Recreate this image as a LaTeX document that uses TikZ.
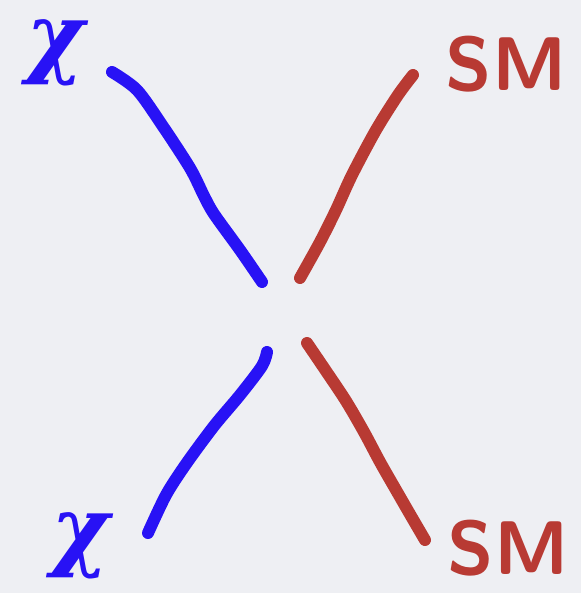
\documentclass[tikz,border=0pt]{standalone}
\usepackage{fontspec}
\newfontfamily\chifont{DejaVu Serif}
\usepackage{tikz}
\usetikzlibrary{positioning, calc}

\definecolor{chiblue}{RGB}{40,18,245}
\definecolor{smred}{RGB}{184,58,51}
\definecolor{paper}{RGB}{238,239,243}

\begin{document}
\begin{tikzpicture}[x=1pt, y=-1pt]
    \tikzstyle{leg} = [line width=12pt, line cap=round, line join=round]
    \tikzstyle{chilabel} = [text=chiblue, inner sep=0pt, font=\fontsize{88}{88}\selectfont\chifont\bfseries\itshape]
    \tikzstyle{smlabel} = [text=smred, inner sep=0pt, font=\fontsize{76}{76}\selectfont\sffamily\bfseries]

    \fill[paper] (0,0) rectangle (581,593);

    \node[chilabel] (chitop) at (55,53) {χ};
    \node[chilabel] (chibot) at (80,546) {χ};
    \node[smlabel] (smtop) at (506,64) {SM};
    \node[smlabel] (smbot) at (508,548) {SM};

    % ends of the four legs near the vertex
    \coordinate (ta) at (112,72);   \coordinate (tv) at (262,282);
    \coordinate (ra) at (413,75);   \coordinate (rv) at (300,278);
    \coordinate (ba) at (148,533);  \coordinate (bv) at (267,352);
    \coordinate (sa) at (425,540);  \coordinate (sv) at (307,343);

    \draw[leg, chiblue] plot[smooth, tension=0.5] coordinates {(ta) (137,90) (162,125) (190,168) (204,196) (214,214) (240,250) (tv)};
    \draw[leg, smred] plot[smooth, tension=0.5] coordinates {(ra) (398,95) (376,130) (352,175) (336,210) (320,242) (rv)};
    \draw[leg, chiblue] plot[smooth, tension=0.5] coordinates {(bv) (262,366) (240,395) (214,426) (186,464) (166,495) (ba)};
    \draw[leg, smred] plot[smooth, tension=0.5] coordinates {(sv) (326,371) (346,401) (364,432) (380,462) (396,490) (411,516) (sa)};
\end{tikzpicture}
\end{document}
